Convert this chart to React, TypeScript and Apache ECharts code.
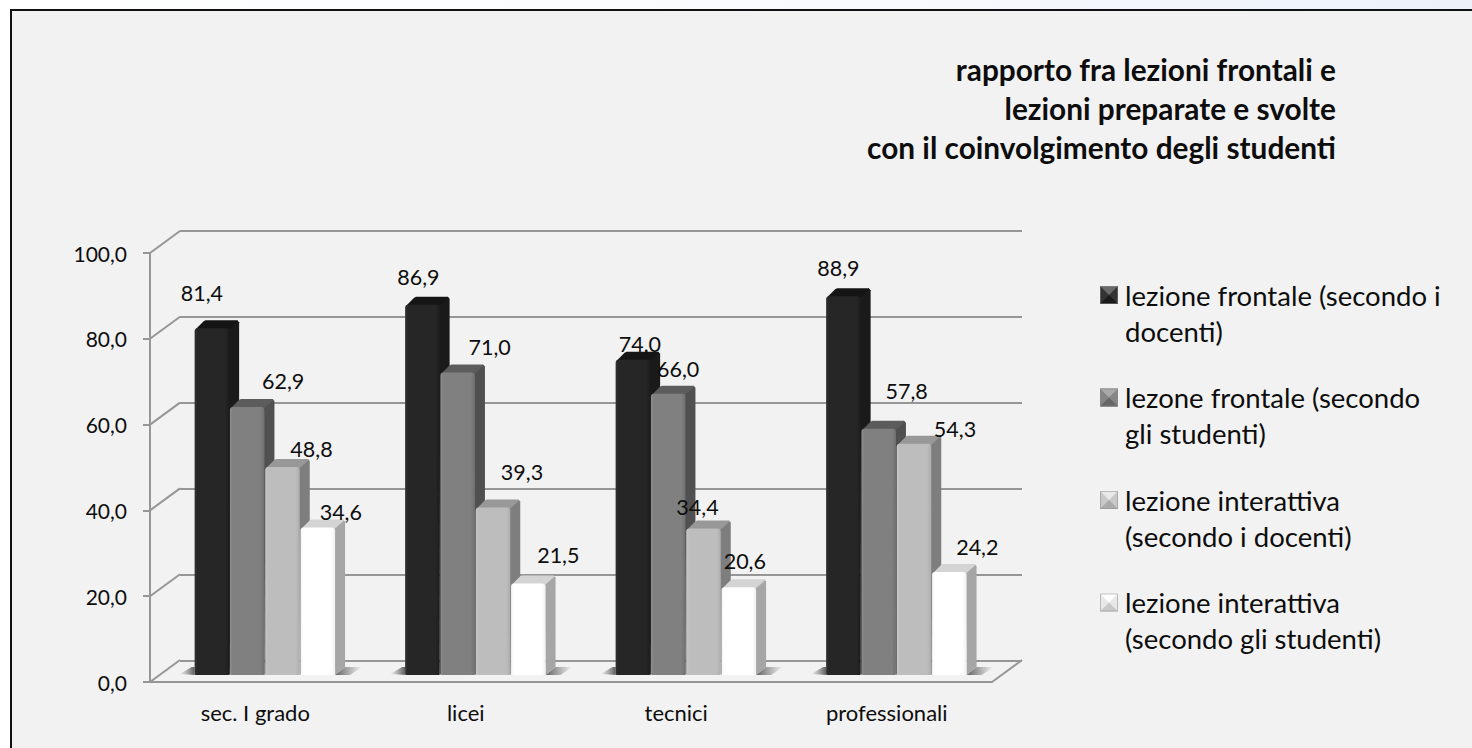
import React, { useEffect, useRef } from "react";
import * as echarts from "echarts";

const categories = ["sec. I grado", "licei", "tecnici", "professionali"];
const seriesNames = [
  "lezione frontale (secondo i docenti)",
  "lezone frontale (secondo gli studenti)",
  "lezione interattiva (secondo i docenti)",
  "lezione interattiva (secondo gli studenti)",
];
const legendLabels = [
  "lezione frontale (secondo i\ndocenti)",
  "lezone frontale (secondo\ngli studenti)",
  "lezione interattiva\n(secondo i docenti)",
  "lezione interattiva\n(secondo gli studenti)",
];
const frontaleDocenti = [81.4, 86.9, 74.0, 88.9];
const frontaleStudenti = [62.9, 71.0, 66.0, 57.8];
const interattivaDocenti = [48.8, 39.3, 34.4, 54.3];
const interattivaStudenti = [34.6, 21.5, 20.6, 24.2];
const values = [frontaleDocenti, frontaleStudenti, interattivaDocenti, interattivaStudenti];
const yTicks = [0, 20, 40, 60, 80, 100];
const titleText = "rapporto fra lezioni frontali e\nlezioni preparate e svolte\ncon il coinvolgimento degli studenti";

// hand-placed label offsets from the top centre of each bar, as in the original
const labelDx = [
  [-10, -4, 7, -5],
  [36, 32, 10, 28],
  [29, 29, -6, 41],
  [23, 30, 6, 28],
];
const labelDy = [
  [-35, -28, -16, -28],
  [-26, -26, -25, -38],
  [-18, -36, -21, -15],
  [-16, -28, -26, -25],
];

const FONT = "Lato, Carlito, Calibri, sans-serif";
const LINE = "#969696";
const DEPTH_X = 10;
const DEPTH_Y = 8;

const palette = [
  { l: "#333333", c: "#262626", r: "#1d1d1d", side: "#1a1a1a", top: "#151515", iconT: "#6a6a6a", iconB: "#1a1a1a", iconS: "#333333" },
  { l: "#8e8e8e", c: "#808080", r: "#6f6f6f", side: "#505050", top: "#5c5c5c", iconT: "#a8a8a8", iconB: "#666666", iconS: "#858585" },
  { l: "#c8c8c8", c: "#bdbdbd", r: "#adadad", side: "#7e7e7e", top: "#989898", iconT: "#e8e8e8", iconB: "#aaaaaa", iconS: "#c8c8c8" },
  { l: "#f4f4f4", c: "#ffffff", r: "#f0f0f0", side: "#a6a6a6", top: "#d4d4d4", iconT: "#ffffff", iconB: "#c8c8c8", iconS: "#e8e8e8" },
];

const comma = (v: number) => v.toFixed(1).replace(".", ",");

function legendIcon(p: (typeof palette)[number]) {
  // square in the top part of a tall transparent image: it lines up with the first text line
  const svg =
    `<svg xmlns="http://www.w3.org/2000/svg" width="18" height="72" viewBox="0 0 18 72">` +
    `<rect x="0" y="9" width="18" height="18" fill="${p.iconS}"/>` +
    `<polygon points="0,9 18,9 9,18" fill="${p.iconT}"/>` +
    `<polygon points="0,27 18,27 9,18" fill="${p.iconB}"/>` +
    `<rect x="0.5" y="9.5" width="17" height="17" fill="none" stroke="#8a8a8a" stroke-opacity="0.5"/>` +
    `</svg>`;
  return "image://data:image/svg+xml;charset=utf-8," + encodeURIComponent(svg);
}

function shadow(points: number[][], x1: number, x2: number) {
  return {
    type: "polygon",
    shape: { points },
    silent: true,
    style: {
      fill: new echarts.graphic.LinearGradient(x1, 0, x2, 0, [
        { offset: 0, color: "rgba(90,90,90,0)" },
        { offset: 1, color: "rgba(70,70,70,0.85)" },
      ]),
    },
  };
}

function renderBar(si: number) {
  return (params: any, api: any) => {
    const cat = api.value(0);
    const val = api.value(1);
    const top = api.coord([cat, val]);
    const base = api.coord([cat, 0]);
    const band = api.size([1, 0])[0];
    const step = band / 5.96;
    const w = step - 0.8;
    const x = top[0] + (si - 2) * step;
    const y = top[1];
    const y0 = base[1];
    const p = palette[si];
    const children: any[] = [];
    if (si === 0) {
      children.push(shadow([[x, y0 - 8], [x - 3, y0 - 8], [x - 15, y0 - 1], [x, y0]], 0, 1));
    }
    if (si === 3) {
      children.push(shadow([[x + w, y0], [x + w + DEPTH_X, y0 - 8], [x + w + 27, y0 - 8], [x + w + 15, y0]], 1, 0));
    }
    children.push({
      type: "polygon",
      shape: { points: [[x + w - 1, y], [x + w + DEPTH_X - 2, y - DEPTH_Y], [x + w + DEPTH_X, y - DEPTH_Y + 2], [x + w + DEPTH_X, y0 - DEPTH_Y], [x + w, y0]] },
      style: { fill: p.side },
    });
    children.push({
      type: "polygon",
      shape: { points: [[x + 1, y + 1], [x + DEPTH_X - 1, y - DEPTH_Y + 1], [x + DEPTH_X + 1, y - DEPTH_Y], [x + w + DEPTH_X - 2, y - DEPTH_Y], [x + w + DEPTH_X - 1, y - DEPTH_Y + 1], [x + w, y + 1]] },
      style: { fill: p.top },
    });
    children.push({
      type: "rect",
      shape: { x, y, width: w, height: y0 - y, r: [3, 3, 1, 1] },
      style: {
        fill: new echarts.graphic.LinearGradient(0, 0, 1, 0, [
          { offset: 0, color: p.l },
          { offset: 0.08, color: p.c },
          { offset: 0.88, color: p.c },
          { offset: 1, color: p.r },
        ]),
      },
    });
    children.push({
      type: "text",
      z2: 100,
      silent: true,
      style: {
        text: comma(val),
        x: x + w / 2 + labelDx[si][cat],
        y: y + labelDy[si][cat],
        align: "center",
        verticalAlign: "middle",
        font: `21.5px ${FONT}`,
        fill: "#0d0d0d",
      },
    });
    return { type: "group", children };
  };
}

function renderWallLinks(params: any, api: any) {
  const left = params.coordSys.x;
  const right = left + params.coordSys.width;
  const v = api.value(0);
  const y = api.coord([0, v])[1];
  const line = (x1: number) => ({
    type: "line",
    shape: { x1, y1: y, x2: x1 + 30, y2: y - 22 },
    style: { stroke: LINE, lineWidth: 2 },
  });
  const children = [line(left)];
  if (v === 0) children.push(line(right));
  return { type: "group", children };
}

export default function App() {
  const ref = useRef<HTMLDivElement>(null);
  useEffect(() => {
    const chart = echarts.init(ref.current!, undefined, { renderer: "svg", width: 1472, height: 748 });
    const option: any = {
      animation: false,
      backgroundColor: "#ffffff",
      textStyle: { fontFamily: FONT },
      title: {
        text: titleText,
        left: 1331,
        top: 45,
        textAlign: "right",
        textStyle: { fontFamily: FONT, fontSize: 29.8, fontWeight: "bold", lineHeight: 39, color: "#0d0d0d" },
      },
      legend: {
        orient: "vertical",
        left: 1100,
        top: 277,
        padding: 0,
        itemWidth: 18,
        itemHeight: 72,
        itemGap: 30.5,
        selectedMode: false,
        data: seriesNames.map((name, i) => ({ name, icon: legendIcon(palette[i]) })),
        formatter: (name: string) => legendLabels[seriesNames.indexOf(name)],
        textStyle: { fontFamily: FONT, fontSize: 27.5, lineHeight: 36, color: "#0d0d0d", padding: [0, 0, 0, 2] },
      },
      graphic: [
        { type: "rect", z: -10, silent: true, shape: { x: 1, y: 0, width: 1471, height: 10 }, style: { fill: new echarts.graphic.LinearGradient(0, 0, 1, 0, [{ offset: 0, color: "#ffffff" }, { offset: 0.6, color: "#f8fafd" }, { offset: 0.9, color: "#eff3fb" }, { offset: 1, color: "#edf1fa" }]) } },
        { type: "rect", z: -10, silent: true, shape: { x: 11, y: 10, width: 1461, height: 738 }, style: { fill: "#f2f2f2" } },
        { type: "line", z: -9, silent: true, shape: { x1: 10, y1: 10, x2: 1472, y2: 10 }, style: { stroke: "#111111", lineWidth: 2 } },
        { type: "line", z: -9, silent: true, shape: { x1: 11, y1: 10, x2: 11, y2: 748 }, style: { stroke: "#111111", lineWidth: 2 } },
      ],
      grid: [
        { left: 150, top: 253, width: 842, height: 429 },
        { left: 180, top: 231, width: 842, height: 430 },
        { left: 160, top: 249, width: 842, height: 426 },
      ],
      xAxis: [
        {
          type: "category",
          gridIndex: 0,
          data: categories,
          axisTick: { show: false },
          axisLine: { lineStyle: { color: LINE, width: 2 } },
          axisLabel: { margin: 19, fontFamily: FONT, fontSize: 22, color: "#0d0d0d" },
        },
        { type: "category", gridIndex: 1, data: categories, show: false },
        { type: "category", gridIndex: 2, data: categories, show: false },
      ],
      yAxis: [
        {
          type: "value",
          gridIndex: 0,
          min: 0,
          max: 100,
          interval: 20,
          splitLine: { show: false },
          axisLine: { show: true, lineStyle: { color: LINE, width: 2 } },
          axisTick: { show: true, length: 7, lineStyle: { color: LINE, width: 2 } },
          axisLabel: { margin: 23, padding: [3, 0, 0, 0], fontFamily: FONT, fontSize: 21, color: "#0d0d0d", formatter: (v: number) => comma(v) },
        },
        {
          type: "value",
          gridIndex: 1,
          min: 0,
          max: 100,
          interval: 20,
          axisLine: { show: false },
          axisTick: { show: false },
          axisLabel: { show: false },
          splitLine: { show: true, lineStyle: { color: LINE, width: 2 } },
        },
        { type: "value", gridIndex: 2, min: 0, max: 100, interval: 20, show: false, splitLine: { show: false } },
      ],
      series: [
        {
          type: "custom",
          name: "wall-links",
          xAxisIndex: 0,
          yAxisIndex: 0,
          data: yTicks.map((v) => [v]),
          encode: { y: 0 },
          renderItem: renderWallLinks,
          silent: true,
          z: 1,
        },
        ...values.map((vals, si) => ({
          type: "custom",
          name: seriesNames[si],
          xAxisIndex: 2,
          yAxisIndex: 2,
          data: vals.map((v, i) => [i, v]),
          encode: { x: 0, y: 1 },
          renderItem: renderBar(si),
          itemStyle: { color: palette[si].c },
          z: 3,
        })),
      ],
    };
    chart.setOption(option);
    return () => chart.dispose();
  }, []);
  return <div ref={ref} style={{ position: "fixed", left: 0, top: 0, width: 1472, height: 748 }} />;
}
